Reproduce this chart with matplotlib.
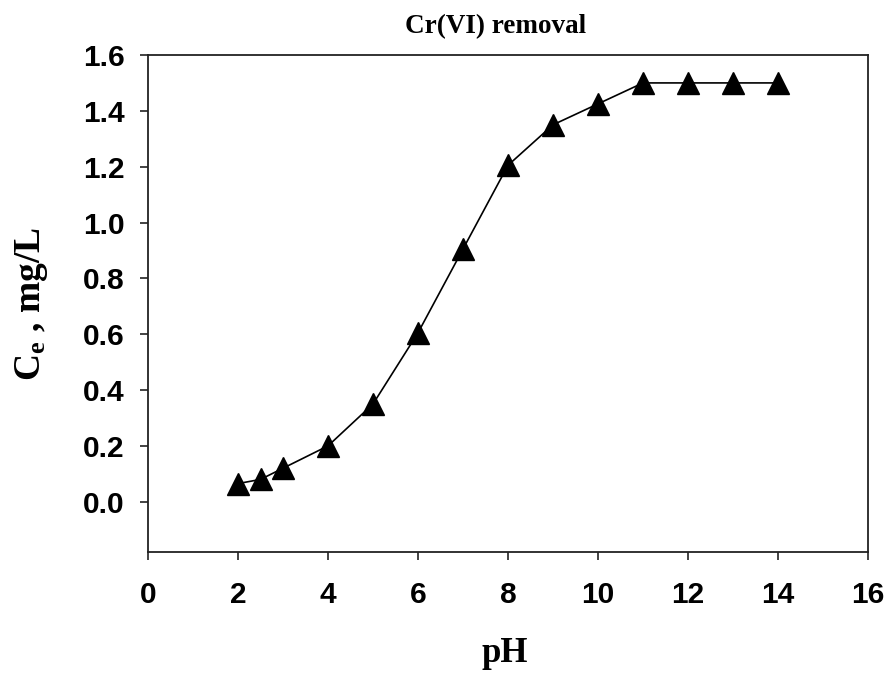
import matplotlib
matplotlib.use("Agg")
import matplotlib.pyplot as plt
from matplotlib.ticker import FixedLocator, FormatStrFormatter

# pH vs equilibrium Cr(VI) concentration
ph = [2, 2.5, 3, 4, 5, 6, 7, 8, 9, 10, 11, 12, 13, 14]
ce = [0.065, 0.08, 0.12, 0.2, 0.35, 0.605, 0.905, 1.205, 1.35, 1.425, 1.5, 1.5, 1.5, 1.5]

x_ticks = [0, 2, 4, 6, 8, 10, 12, 14, 16]
y_ticks = [0.0, 0.2, 0.4, 0.6, 0.8, 1.0, 1.2, 1.4, 1.6]

plt.rcParams["mathtext.fontset"] = "custom"
plt.rcParams["mathtext.rm"] = "Liberation Serif:bold"
plt.rcParams["mathtext.bf"] = "Liberation Serif:bold"
plt.rcParams["mathtext.it"] = "Liberation Serif:bold"

W, H = 888, 675
fig = plt.figure(figsize=(W / 100, H / 100), dpi=100)
ax = fig.add_axes([148 / W, 1 - 552 / H, (868 - 148) / W, (552 - 55) / H])

ax.plot(ph, ce, color="black", linewidth=1.2, marker="^", markersize=15.5,
        markerfacecolor="black", markeredgecolor="black", zorder=3)

ax.set_xlim(0, 16)
ax.set_ylim(-0.18, 1.6)
ax.xaxis.set_major_locator(FixedLocator(x_ticks))
ax.yaxis.set_major_locator(FixedLocator(y_ticks))
ax.xaxis.set_major_formatter(FormatStrFormatter("%d"))
ax.yaxis.set_major_formatter(FormatStrFormatter("%.1f"))

for s in ax.spines.values():
    s.set_linewidth(1.3)
    s.set_color("#222222")

ax.tick_params(axis="both", direction="out", length=6, width=1.2, color="#222222")
ax.tick_params(axis="x", pad=15)
ax.tick_params(axis="y", pad=11)
for lab in ax.get_xticklabels() + ax.get_yticklabels():
    lab.set_fontfamily("Liberation Sans")
    lab.set_fontweight("bold")
    lab.set_fontsize(21.5)

fig.text(496 / W, 1 - 27 / H, "Cr(VI) removal", ha="center", va="center",
         fontfamily="Liberation Serif", fontweight="bold", fontsize=19.5)
fig.text(505 / W, 1 - 653 / H, "pH", ha="center", va="center",
         fontfamily="Liberation Serif", fontweight="bold", fontsize=25)
fig.text(32 / W, 1 - 304 / H, r"C$_{\mathrm{e}}$ , mg/L", ha="center", va="center",
         rotation=90, fontfamily="Liberation Serif", fontweight="bold", fontsize=27)

fig.savefig("out.png", dpi=100)
